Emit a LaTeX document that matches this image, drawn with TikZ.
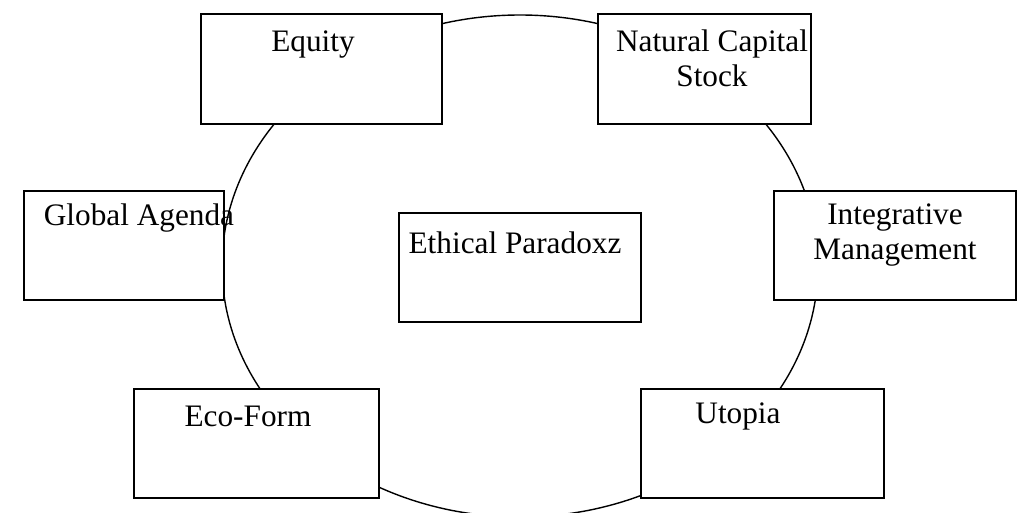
\documentclass[tikz,border=0pt]{standalone}
\usepackage{fontspec}
\setmainfont{Liberation Serif}
\begin{document}
\begin{tikzpicture}[x=0.02cm,y=-0.02cm,
  box/.style={draw,fill=white,line width=0.8pt,inner sep=0pt},
  lab/.style={font=\fontsize{17.8}{20}\selectfont,align=center,inner sep=0pt}]
\useasboundingbox (0,0) rectangle (1027,513);
\begin{scope}
\clip (0,0) rectangle (1027,513);
\draw[line width=0.8pt] (520,266) ellipse [x radius=298, y radius=251];
\end{scope}
\node[box,minimum width=4.82cm,minimum height=2.2cm] (eq) at (321.5,69) {};
\node[box,minimum width=4.26cm,minimum height=2.2cm] (nc) at (704.5,69) {};
\node[box,minimum width=4cm,minimum height=2.18cm] (ga) at (124,245.5) {};
\node[box,minimum width=4.84cm,minimum height=2.18cm] (ep) at (520,267.5) {};
\node[box,minimum width=4.84cm,minimum height=2.18cm] (im) at (895,245.5) {};
\node[box,minimum width=4.9cm,minimum height=2.18cm] (ef) at (256.5,443.5) {};
\node[box,minimum width=4.86cm,minimum height=2.18cm] (ut) at (762.5,443.5) {};
\node[lab] (teq) at (313,45) {Equity};
\node[lab] (tnc) at (712,58) {Natural Capital\\Stock};
\node[lab] (tga) at (139,218) {Global Agenda};
\node[lab] (tep) at (515,243) {Ethical Paradoxz};
\node[lab] (tim) at (895,235) {Integrative\\Management};
\node[lab] (tef) at (248,416) {Eco-Form};
\node[lab] (tut) at (738,416) {Utopia};
\end{tikzpicture}
\end{document}
